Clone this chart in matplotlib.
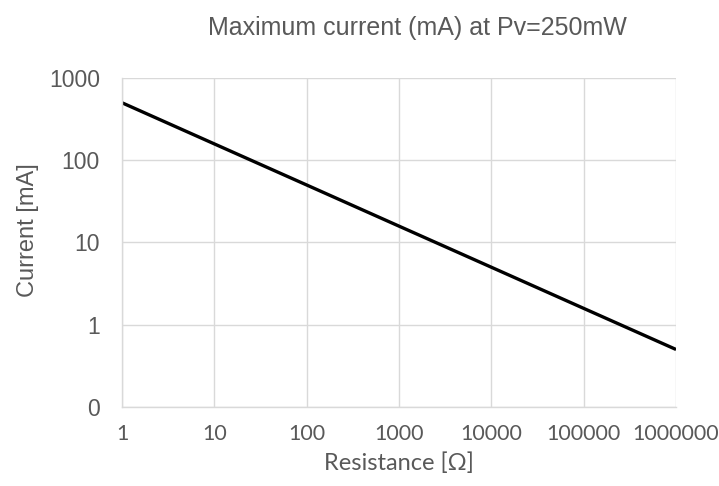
import matplotlib
matplotlib.use("Agg")
import matplotlib.pyplot as plt
import matplotlib.transforms as mtransforms
from matplotlib.ticker import NullLocator

# values (I = sqrt(P/R) at 250 mW)
resistance = [1, 10, 100, 1000, 10000, 100000, 1000000]
current_ma = [500, 158, 50, 15.8, 5, 1.58, 0.5]

x_ticks = [1, 10, 100, 1000, 10000, 100000, 1000000]
x_labels = ["1", "10", "100", "1000", "10000", "100000", "1000000"]
y_ticks = [0.1, 1, 10, 100, 1000]
y_labels = ["0", "1", "10", "100", "1000"]

text_col = "#595959"
grid_col = "#d9d9d9"
arial = ["Liberation Sans", "DejaVu Sans"]
calibri = ["Lato", "DejaVu Sans"]

fig = plt.figure(figsize=(7.19, 4.86), dpi=100, facecolor="white")
ax = fig.add_axes([0.1697, 0.1626, 0.7706, 0.6769])

ax.plot(resistance, current_ma, color="black", lw=2.4, solid_capstyle="butt")
ax.set_xscale("log")
ax.set_yscale("log")
ax.set_xlim(1, 1000000)
ax.set_ylim(0.1, 1000)

ax.set_xticks(x_ticks)
xt = ax.set_xticklabels(x_labels, family=calibri, fontsize=15.5, color=text_col)
ax.set_yticks(y_ticks)
ax.set_yticklabels(y_labels, family=arial, fontsize=16.5, color=text_col)
ax.xaxis.set_minor_locator(NullLocator())
ax.yaxis.set_minor_locator(NullLocator())

# keep the last x label inside the figure, as in the reference
shift = mtransforms.ScaledTranslation(-6 / 100, 0, fig.dpi_scale_trans)
xt[-1].set_transform(xt[-1].get_transform() + shift)

ax.grid(True, color=grid_col, lw=1)
ax.set_axisbelow(True)
for side in ["top", "right"]:
    ax.spines[side].set_visible(False)
for side in ["left", "bottom"]:
    ax.spines[side].set_color(grid_col)
    ax.spines[side].set_linewidth(1)

ax.tick_params(length=0)
ax.tick_params(axis="y", pad=16)
ax.tick_params(axis="x", pad=12)

ax.set_ylabel("Current [mA]", fontsize=17, color=text_col, family=arial, va="center")
ax.yaxis.set_label_coords(-0.170, 0.538)
ax.set_xlabel("Resistance [\u03a9]", fontsize=17, color=text_col, family=calibri, va="center")
ax.xaxis.set_label_coords(0.5, -0.172)
fig.text(0.581, 0.942, "Maximum current (mA) at Pv=250mW", ha="center", va="center",
         fontsize=18, color=text_col, family=arial)

fig.savefig("out.png", dpi=100, facecolor="white")
